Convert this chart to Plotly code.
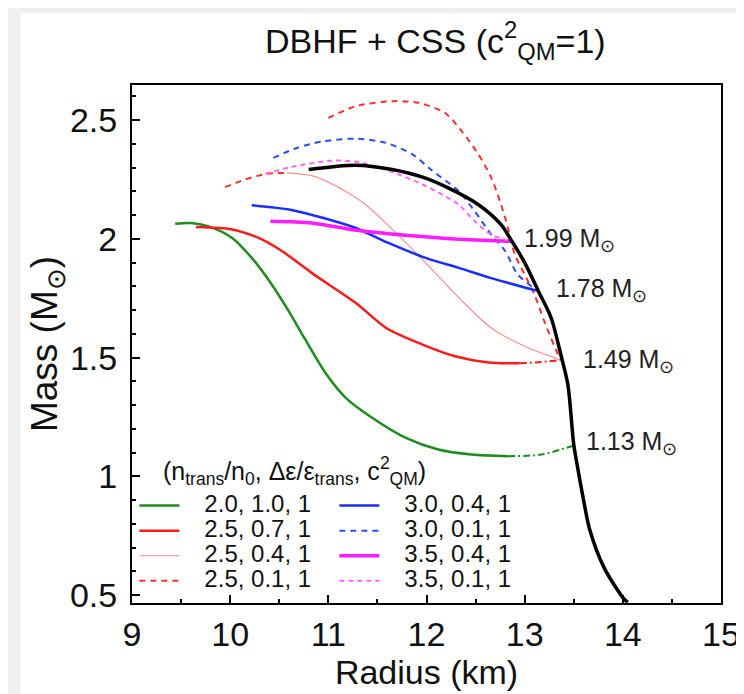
import plotly.graph_objects as go

# ---------------- data ----------------
# hadronic DBHF branch
R_had = [10.80, 11.28, 11.65, 11.96, 12.22, 12.53, 12.76, 12.87, 13.00, 13.14, 13.27, 13.37, 13.44, 13.50, 13.54, 13.60, 13.66, 13.81, 14.00, 14.05]
M_had = [2.292, 2.310, 2.292, 2.260, 2.215, 2.144, 2.060, 1.990, 1.900, 1.780, 1.667, 1.510, 1.387, 1.134, 1.036, 0.900, 0.780, 0.615, 0.490, 0.470]

# 2.0, 1.0, 1 (green)
R_g = [9.44, 9.60, 9.78, 10.02, 10.22, 10.42, 10.59, 10.76, 10.98, 11.18, 11.45, 11.79, 12.12, 12.46, 12.83]
M_g = [2.064, 2.067, 2.053, 2.004, 1.920, 1.810, 1.700, 1.580, 1.430, 1.330, 1.246, 1.162, 1.113, 1.092, 1.085]
R_g_u = [12.83, 13.17, 13.50]
M_g_u = [1.085, 1.092, 1.130]

# 2.5, 0.7, 1 (red)
R_r = [9.65, 10.02, 10.29, 10.53, 10.83, 11.28, 11.59, 11.96, 12.29, 12.63, 12.95]
M_r = [2.050, 2.040, 2.004, 1.948, 1.857, 1.730, 1.625, 1.555, 1.506, 1.480, 1.476]
R_r_u = [12.95, 13.17, 13.37]
M_r_u = [1.476, 1.482, 1.490]

# 2.5, 0.4, 1 (light red)
R_lr = [10.58, 10.85, 11.11, 11.38, 11.62, 11.99, 12.33, 12.66, 13.00, 13.37]
M_lr = [2.278, 2.264, 2.215, 2.144, 2.053, 1.900, 1.752, 1.625, 1.548, 1.490]
R_lr_u = [9.95, 10.15, 10.37, 10.58]
M_lr_u = [2.218, 2.250, 2.274, 2.278]

# 2.5, 0.1, 1 (red dashed)
R_rd = [11.00, 11.28, 11.65, 11.92, 12.19, 12.36, 12.53, 12.66, 12.76, 12.83, 12.90, 13.00, 13.10, 13.20, 13.34, 13.37]
M_rd = [2.509, 2.559, 2.580, 2.573, 2.530, 2.453, 2.355, 2.257, 2.144, 2.046, 1.934, 1.850, 1.765, 1.653, 1.513, 1.490]

# 3.0, 0.4, 1 (blue)
R_b = [10.22, 10.61, 10.95, 11.28, 11.60, 11.99, 12.33, 12.66, 13.14]
M_b = [2.142, 2.123, 2.088, 2.046, 1.985, 1.920, 1.878, 1.835, 1.780]

# 3.0, 0.1, 1 (blue dashed)
R_bd = [10.44, 10.68, 10.95, 11.28, 11.59, 11.86, 12.05, 12.33, 12.49, 12.66, 12.80, 12.93, 13.14]
M_bd = [2.341, 2.383, 2.411, 2.422, 2.404, 2.355, 2.290, 2.200, 2.117, 2.018, 1.950, 1.850, 1.780]

# 3.5, 0.4, 1 (magenta)
R_m = [10.41, 10.83, 11.25, 11.92, 12.39, 12.87]
M_m = [2.074, 2.067, 2.039, 2.011, 1.997, 1.990]

# 3.5, 0.1, 1 (magenta dashed)
R_md = [10.36, 10.61, 11.05, 11.35, 11.72, 11.96, 12.19, 12.33, 12.49, 12.66, 12.87]
M_md = [2.274, 2.302, 2.330, 2.320, 2.271, 2.229, 2.180, 2.144, 2.075, 2.018, 1.990]

# transition labels
lab_R = [12.87, 13.14, 13.37, 13.50]
lab_M = [1.996, 1.785, 1.486, 1.140]
lab_txt = ["1.99", "1.78", "1.49", "1.13"]
lab_shift = [10, 16, 20, 10]

legend_header = "(n<sub>trans</sub>/n<sub>0</sub>, Δε/ε<sub>trans</sub>, c<sup>2</sup><sub>QM</sub>)"

FONT = "Liberation Sans, Arial, Helvetica, sans-serif"
LEG_PX = 24  # displayed legend text size
PAD = "\u00a0\u00a0\u00a0"

fig = go.Figure()

def add(R, M, color, width, dash="solid", name=None, rank=None):
    fig.add_trace(go.Scatter(
        x=R, y=M, mode="lines", line=dict(color=color, width=width, dash=dash, shape="spline", smoothing=0.8),
        name=('<span style="font-size:%dpx">%s%s</span>' % (LEG_PX, PAD, name)) if name else "",
        showlegend=name is not None,
        legendrank=rank if rank else 1000, hoverinfo="skip"))

DD = "7px,3px,2px,3px"
# unstable segments
add(R_g_u, M_g_u, "#1e8c1e", 2, DD)
add(R_r_u, M_r_u, "#ff1a1a", 2, DD)
add(R_lr_u, M_lr_u, "#ff3030", 2, "6px,5px")
# legend order (row-wise for 2 columns)
add(R_g, M_g, "#1e8c1e", 2.5, name="2.0, 1.0, 1", rank=1)
add(R_r, M_r, "#ff1a1a", 2.5, name="2.5, 0.7, 1", rank=3)
add(R_lr, M_lr, "#ff8c8c", 1.2, name="2.5, 0.4, 1", rank=5)
add(R_rd, M_rd, "#ff3030", 2, "6px,5px", name="2.5, 0.1, 1", rank=7)
add(R_b, M_b, "#1a2cff", 2.5, name="3.0, 0.4, 1", rank=2)
add(R_bd, M_bd, "#2a4cff", 2, "6px,5px", name="3.0, 0.1, 1", rank=4)
add(R_m, M_m, "#ff1aff", 3.5, name="3.5, 0.4, 1", rank=6)
add(R_md, M_md, "#ff66ff", 2, "5px,4px", name="3.5, 0.1, 1", rank=8)
# hadronic on top
fig.add_trace(go.Scatter(x=R_had, y=M_had, mode="lines",
                         line=dict(color="black", width=3.5, shape="spline", smoothing=0.8),
                         showlegend=False, hoverinfo="skip"))

for r, m, t, s in zip(lab_R, lab_M, lab_txt, lab_shift):
    fig.add_annotation(x=r, y=m, text=t + " M<sub>⊙</sub>", showarrow=False,
                       xanchor="left", yanchor="middle", xshift=s,
                       font=dict(family=FONT, size=25, color="#222"))

# legend header
fig.add_annotation(xref="paper", yref="paper", x=0.05, y=0.255, text=legend_header, showarrow=False,
                   xanchor="left", yanchor="middle", font=dict(family=FONT, size=25, color="#111"))

fig.add_shape(type="rect", xref="paper", yref="paper", x0=-0.189, x1=1.04, y0=-0.19, y1=1.139,
              fillcolor="white", line=dict(width=0), layer="below")

fig.update_layout(
    width=744, height=694,
    margin=dict(l=124, r=26, t=77, b=99),
    paper_bgcolor="#efefef", plot_bgcolor="white",
    font=dict(family=FONT, size=26, color="#111"),
    title=dict(text="DBHF + CSS (c<sup>2</sup><sub>QM</sub>=1)", x=0.515, xref="paper", xanchor="center",
               y=0.953, yanchor="middle", font=dict(family=FONT, size=34, color="#111")),
    showlegend=True,
    legend=dict(orientation="h", x=0.004, y=0.222, xanchor="left", yanchor="top",
                bgcolor="rgba(0,0,0,0)", font=dict(family=FONT, size=17, color="#111"),
                entrywidth=145, entrywidthmode="pixels", itemwidth=40, tracegroupgap=0),
)
fig.update_xaxes(range=[9, 15], dtick=1, tick0=9, ticks="inside", ticklen=8, tickwidth=1.5, tickcolor="black",
                 minor=dict(dtick=0.5, ticks="inside", ticklen=4, tickcolor="black"),
                 showline=True, linecolor="black", linewidth=2, mirror=True, showgrid=False, zeroline=False,
                 title=dict(text="Radius (km)", font=dict(family=FONT, size=34), standoff=2),
                 tickfont=dict(family=FONT, size=34))
fig.update_yaxes(range=[0.467, 2.648], tickvals=[0.5, 1, 1.5, 2, 2.5], ticktext=["0.5", "1", "1.5", "2", "2.5"],
                 ticks="inside", ticklen=8, tickwidth=1.5, tickcolor="black",
                 minor=dict(dtick=0.1, tick0=0.5, ticks="inside", ticklen=4, tickcolor="black"),
                 showline=True, linecolor="black", linewidth=2, mirror=True, showgrid=False, zeroline=False,
                 ticklabelstandoff=6,
                 title=dict(text="Mass (M<sub>⊙</sub>)", font=dict(family=FONT, size=37), standoff=0),
                 tickfont=dict(family=FONT, size=34))

fig.write_html("out.html")
